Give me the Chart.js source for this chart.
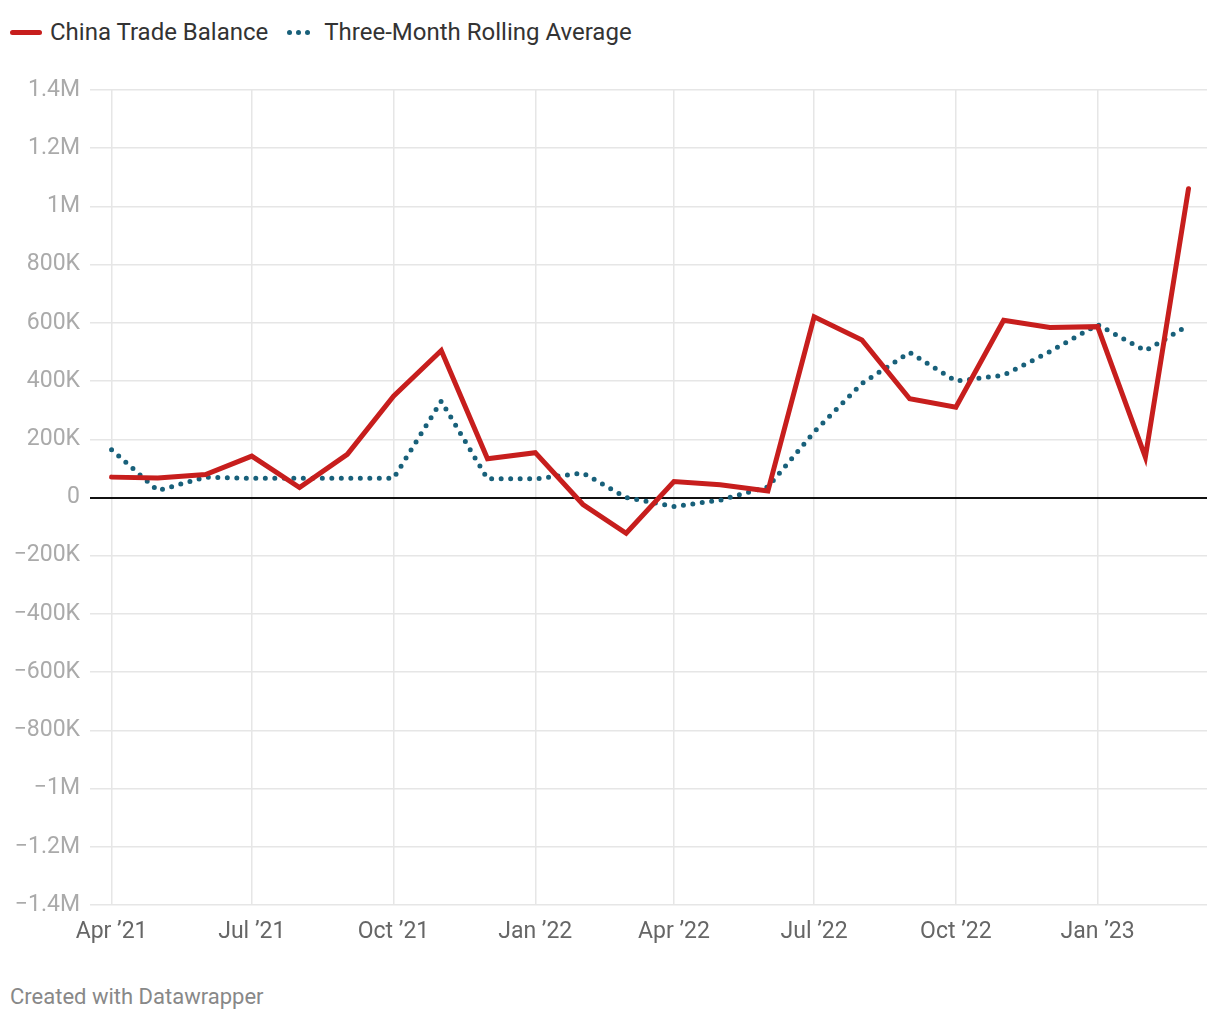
<!DOCTYPE html>
<html>
<head>
<meta charset="utf-8">
<script src="https://cdn.jsdelivr.net/npm/chart.js@4.4.1/dist/chart.umd.min.js"></script>
<style>
  body { margin: 0; width: 1220px; height: 1020px; background: #fff; font-family: Roboto, "Noto Sans", sans-serif; position: relative; overflow: hidden; }
  #legend { position: absolute; left: 10px; top: 16px; height: 32px; display: flex; align-items: center; font-size: 24px; color: #333; }
  .sw-line { width: 32px; height: 5px; border-radius: 3px; background: #c71e1d; margin-right: 8px; }
  .sw-dots { display: flex; gap: 4px; margin-left: 19px; margin-right: 14px; }
  .sw-dots span { width: 5px; height: 5px; border-radius: 50%; background: #18607a; display: block; }
  #wrap { position: absolute; left: 0; top: 60px; width: 1220px; height: 900px; }
  #footer { position: absolute; left: 10px; top: 984px; font-size: 22px; color: #888; }
</style>
</head>
<body>
<div id="legend">
  <div class="sw-line"></div><span>China Trade Balance</span>
  <div class="sw-dots"><span></span><span></span><span></span></div><span>Three-Month Rolling Average</span>
</div>
<div id="wrap"><canvas id="myLineChart"></canvas></div>
<div id="footer">Created with Datawrapper</div>
<script>
// 月份（每月1日）
const months = ['2021-04', '2021-05', '2021-06', '2021-07', '2021-08', '2021-09', '2021-10', '2021-11', '2021-12',
                '2022-01', '2022-02', '2022-03', '2022-04', '2022-05', '2022-06', '2022-07', '2022-08', '2022-09',
                '2022-10', '2022-11', '2022-12', '2023-01', '2023-02', '2023-03'];
// 贸易差额
const tradeBalance = [70000, 67000, 79000, 142000, 34000, 148000, 348000, 505000, 133000,
                      154000, -24000, -123000, 55000, 44000, 22000, 621000, 541000, 339000,
                      310000, 609000, 584000, 587000, 139000, 1061000];
// 三个月滚动平均
const rollingAvg = [164000, 24000, 70000, 66000, 66000, 66000, 66000, 331000, 64000,
                    64000, 84000, 0, -31000, -9000, 36000, 225000, 392000, 498000,
                    400000, 420000, 501000, 594000, 504000, 592000];

// x 轴刻度
const xTickDates = ['2021-04', '2021-07', '2021-10', '2022-01', '2022-04', '2022-07', '2022-10', '2023-01'];
const xTickLabels = ['Apr ’21', 'Jul ’21', 'Oct ’21', 'Jan ’22', 'Apr ’22', 'Jul ’22', 'Oct ’22', 'Jan ’23'];
const xRange = ['2021-03-18', '2023-03-13'];

// y 轴刻度
const yTicks = [1400000, 1200000, 1000000, 800000, 600000, 400000, 200000, 0,
                -200000, -400000, -600000, -800000, -1000000, -1200000, -1400000];
const yTickLabels = ['1.4M', '1.2M', '1M', '800K', '600K', '400K', '200K', '0',
                     '−200K', '−400K', '−600K', '−800K', '−1M', '−1.2M', '−1.4M'];

// 日期 -> 天数
function toDay(s) {
    const p = s.split('-').map(Number);
    return Date.UTC(p[0], p[1] - 1, p[2] || 1) / 86400000;
}

const xTickDays = xTickDates.map(toDay);

const ctx = document.getElementById('myLineChart').getContext('2d');
const myLineChart = new Chart(ctx, {
    type: 'line',
    data: {
        datasets: [{
            label: 'China Trade Balance',
            data: months.map((m, i) => ({ x: toDay(m), y: tradeBalance[i] })),
            borderColor: '#c71e1d',
            borderWidth: 5,
            borderJoinStyle: 'miter',
            borderCapStyle: 'round',
            pointRadius: 0,
            fill: false,
            order: 1
        }, {
            label: 'Three-Month Rolling Average',
            data: months.map((m, i) => ({ x: toDay(m), y: rollingAvg[i] })),
            borderColor: '#18607a',
            borderWidth: 5,
            borderDash: [0, 9.5],
            borderCapStyle: 'round',
            pointRadius: 0,
            fill: false,
            order: 2
        }]
    },
    options: {
        responsive: true,
        maintainAspectRatio: false,
        animation: false,
        layout: { padding: { top: 30, right: 13, bottom: 0, left: 0 } },
        plugins: { legend: { display: false }, tooltip: { enabled: false } },
        scales: {
            x: {
                type: 'linear',
                min: toDay(xRange[0]),
                max: toDay(xRange[1]),
                afterBuildTicks: scale => { scale.ticks = xTickDays.map(v => ({ value: v })); },
                afterFit: scale => { scale.height = 55; },
                ticks: {
                    autoSkip: false,
                    maxRotation: 0,
                    padding: 13,
                    color: '#666',
                    font: { family: 'Roboto', size: 23 },
                    callback: v => xTickLabels[xTickDays.indexOf(v)]
                },
                grid: { color: '#e6e6e6', lineWidth: 1.5, tickLength: 0, drawTicks: false },
                border: { display: false }
            },
            y: {
                min: -1400000,
                max: 1400000,
                afterBuildTicks: scale => { scale.ticks = yTicks.map(v => ({ value: v })); },
                afterFit: scale => { scale.width = 90; },
                ticks: {
                    padding: 10,
                    color: '#aaa',
                    font: { family: 'Roboto', size: 23 },
                    callback: v => yTickLabels[yTicks.indexOf(v)]
                },
                grid: {
                    drawTicks: false,
                    tickLength: 0,
                    color: c => c.tick && c.tick.value === 0 ? '#111' : '#e6e6e6',
                    lineWidth: c => c.tick && c.tick.value === 0 ? 2 : 1.5
                },
                border: { display: false }
            }
        }
    }
});
</script>
</body>
</html>
